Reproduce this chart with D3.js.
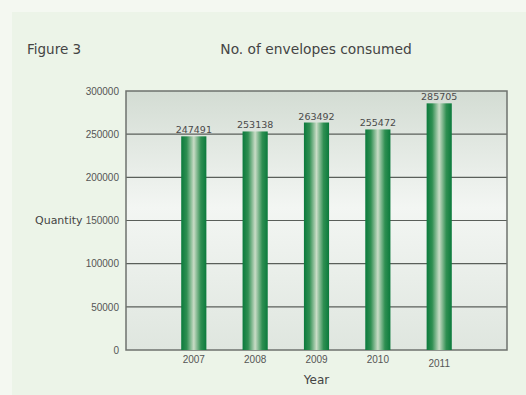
<!DOCTYPE html>
<html>
<head>
<meta charset="utf-8">
<script src="https://cdn.jsdelivr.net/npm/d3@7/dist/d3.min.js"></script>
<style>
  body { margin: 0; background: #f4f8f1; }
  svg { display: block; font-family: "DejaVu Sans", sans-serif; }
</style>
</head>
<body>
<script>
var years = ["2007", "2008", "2009", "2010", "2011"]
var quantities = [247491, 253138, 263492, 255472, 285705]
var yTicks = [0, 50000, 100000, 150000, 200000, 250000, 300000]

var width = 526, height = 395
var margin = {top: 91, right: 19, bottom: 45, left: 126}

var svg = d3.select("body").append("svg")
    .attr("width", width)
    .attr("height", height)

var defs = svg.append("defs")
var plotGrad = defs.append("linearGradient")
    .attr("id", "plotGrad")
    .attr("x1", 0).attr("y1", 0).attr("x2", 0).attr("y2", 1)
plotGrad.append("stop").attr("offset", "0%").attr("stop-color", "#d3dcd3")
plotGrad.append("stop").attr("offset", "45%").attr("stop-color", "#f3f6f3")
plotGrad.append("stop").attr("offset", "100%").attr("stop-color", "#dfe6df")

var barGrad = defs.append("linearGradient")
    .attr("id", "barGrad")
    .attr("x1", 0).attr("y1", 0).attr("x2", 1).attr("y2", 0)
barGrad.append("stop").attr("offset", "0%").attr("stop-color", "#0b7a3c")
barGrad.append("stop").attr("offset", "22%").attr("stop-color", "#2f8f52")
barGrad.append("stop").attr("offset", "50%").attr("stop-color", "#c9dcc6")
barGrad.append("stop").attr("offset", "78%").attr("stop-color", "#2f8f52")
barGrad.append("stop").attr("offset", "100%").attr("stop-color", "#0b7a3c")

// outer panel
svg.append("rect")
    .attr("x", 12).attr("y", 12)
    .attr("width", width - 12).attr("height", height - 12)
    .attr("fill", "#ecf4e8")

var x = d3.scaleBand()
    .domain(years)
    .range([margin.left, width - margin.right])
    .paddingInner(0.59)
    .paddingOuter(0.9)

var y = d3.scaleLinear()
    .domain([0, 300000])
    .range([height - margin.bottom, margin.top])

var plot = svg.append("g")

plot.append("rect")
    .attr("x", margin.left)
    .attr("y", margin.top)
    .attr("width", width - margin.right - margin.left)
    .attr("height", height - margin.bottom - margin.top)
    .attr("fill", "url(#plotGrad)")

plot.selectAll(".grid")
    .data(yTicks.slice(1, -1))
    .enter().append("line")
    .attr("class", "grid")
    .attr("x1", margin.left)
    .attr("x2", width - margin.right)
    .attr("y1", function(d) { return y(d); })
    .attr("y2", function(d) { return y(d); })
    .attr("stroke", "#5a5f5a")
    .attr("stroke-width", 1.2)

plot.append("rect")
    .attr("x", margin.left)
    .attr("y", margin.top)
    .attr("width", width - margin.right - margin.left)
    .attr("height", height - margin.bottom - margin.top)
    .attr("fill", "none")
    .attr("stroke", "#6e726e")
    .attr("stroke-width", 1.5)

plot.selectAll(".bar")
    .data(quantities)
    .enter().append("rect")
    .attr("class", "bar")
    .attr("x", function(d, i) { return x(years[i]); })
    .attr("y", function(d) { return y(d); })
    .attr("width", x.bandwidth())
    .attr("height", function(d) { return y(0) - y(d); })
    .attr("fill", "url(#barGrad)")

plot.selectAll(".val")
    .data(quantities)
    .enter().append("text")
    .attr("class", "val")
    .attr("x", function(d, i) { return x(years[i]) + x.bandwidth() / 2; })
    .attr("y", function(d) { return y(d) - 3; })
    .attr("text-anchor", "middle")
    .attr("font-size", 9.5)
    .attr("fill", "#4a4a4a")
    .text(function(d) { return d; })

var yAxis = svg.append("g")
    .attr("transform", "translate(" + margin.left + ",0)")
    .call(d3.axisLeft(y).tickValues(yTicks).tickSize(0).tickPadding(7).tickFormat(d3.format("d")))
yAxis.select(".domain").remove()
yAxis.selectAll("text").attr("font-size", 10).attr("fill", "#555").style("font-family", "inherit")

var xAxis = svg.append("g")
    .attr("transform", "translate(0," + (height - margin.bottom) + ")")
    .call(d3.axisBottom(x).tickSize(0).tickPadding(6))
xAxis.select(".domain").remove()
xAxis.selectAll("text").attr("font-size", 10).attr("fill", "#555").style("font-family", "inherit")
    .attr("dy", function(d) { return d == "2011" ? "1.05em" : "0.71em"; })

svg.append("text")
    .attr("x", 27).attr("y", 54)
    .attr("font-size", 13.5).attr("fill", "#444")
    .text("Figure 3")

svg.append("text")
    .attr("x", 316).attr("y", 54)
    .attr("text-anchor", "middle")
    .attr("font-size", 13.8).attr("fill", "#444")
    .text("No. of envelopes consumed")

svg.append("text")
    .attr("x", 35).attr("y", 224)
    .attr("font-size", 11).attr("fill", "#444")
    .text("Quantity")

svg.append("text")
    .attr("x", x("2009") + x.bandwidth() / 2).attr("y", 384)
    .attr("text-anchor", "middle")
    .attr("font-size", 12).attr("fill", "#444")
    .text("Year")
</script>
</body>
</html>
